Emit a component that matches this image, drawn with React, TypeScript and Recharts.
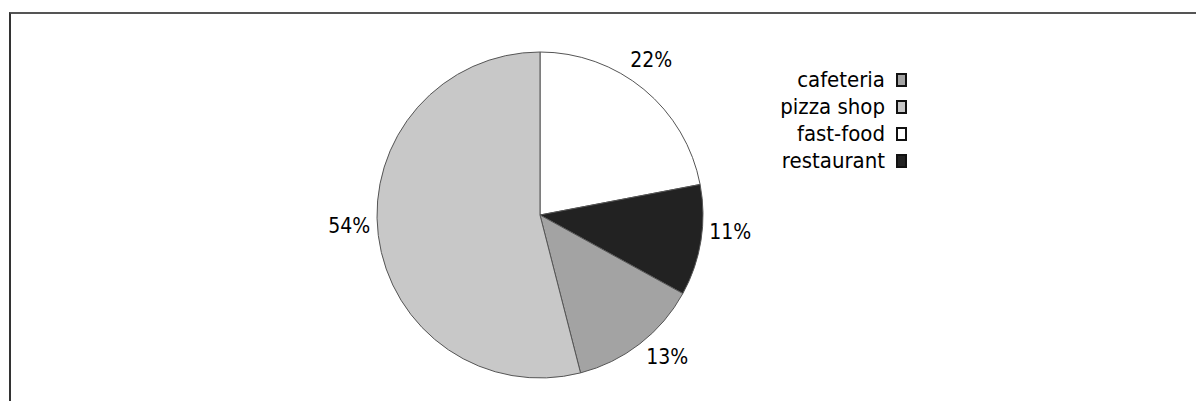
import { PieChart, Pie, Cell, Legend } from "recharts";

// slices, clockwise from 12 o'clock
const categories = ["fast-food", "restaurant", "cafeteria", "pizza shop"];
const shares = [22, 11, 13, 54];
const fills = ["#ffffff", "#222222", "#a3a3a3", "#c8c8c8"];
const legendOrder = ["cafeteria", "pizza shop", "fast-food", "restaurant"];

const data = categories.map((name, i) => ({ name, value: shares[i] }));

const FONT = '"DejaVu Sans Condensed", "DejaVu Sans", sans-serif';
const RAD = Math.PI / 180;

const renderLabel = (props: any) => {
  const { cx, cy, midAngle, outerRadius, value } = props;
  // clockwise angle from 12 o'clock, nudged a little toward the top
  let theta = 90 - midAngle;
  theta -= 4 * Math.sign(Math.sin(theta * RAD));
  const r = outerRadius + 28;
  const x = cx + r * Math.sin(theta * RAD);
  const y = cy - r * Math.cos(theta * RAD);
  return (
    <text
      x={x}
      y={y}
      textAnchor="middle"
      dominantBaseline="central"
      fill="#000"
      fontSize={21}
      fontFamily={FONT}
    >
      {value}%
    </text>
  );
};

const renderLegend = () => (
  <div style={{ fontFamily: FONT, fontSize: 22, color: "#000" }}>
    {legendOrder.map((name) => {
      const i = categories.indexOf(name);
      return (
        <div
          key={name}
          style={{
            display: "flex",
            justifyContent: "flex-end",
            alignItems: "center",
            height: 27,
          }}
        >
          <span style={{ lineHeight: "27px" }}>{name}</span>
          <span
            style={{
              display: "inline-block",
              width: 7,
              height: 10,
              marginLeft: 11,
              background: fills[i],
              border: "2px solid #111",
            }}
          />
        </div>
      );
    })}
  </div>
);

export default function App() {
  return (
    <div style={{ position: "relative", width: 1188, height: 393 }}>
      <div
        style={{
          position: "absolute",
          left: 1,
          top: 4,
          width: 1194,
          height: 396,
          borderTop: "2px solid #555",
          borderLeft: "2px solid #333",
          boxSizing: "border-box",
        }}
      />
      <PieChart
        width={1188}
        height={393}
        margin={{ top: 0, right: 0, bottom: 0, left: 0 }}
        style={{ position: "absolute", left: 0, top: 0 }}
      >
        <Pie
          data={data}
          dataKey="value"
          nameKey="name"
          cx={532}
          cy={207}
          outerRadius={163}
          startAngle={90}
          endAngle={-270}
          stroke="#555"
          strokeWidth={1}
          label={renderLabel}
          labelLine={false}
          isAnimationActive={false}
        >
          {data.map((d, i) => (
            <Cell key={d.name} fill={fills[i]} />
          ))}
        </Pie>
        <Legend
          content={renderLegend}
          layout="vertical"
          align="right"
          verticalAlign="top"
          wrapperStyle={{ left: 689, top: 58, width: 210, right: "auto" }}
        />
      </PieChart>
    </div>
  );
}
